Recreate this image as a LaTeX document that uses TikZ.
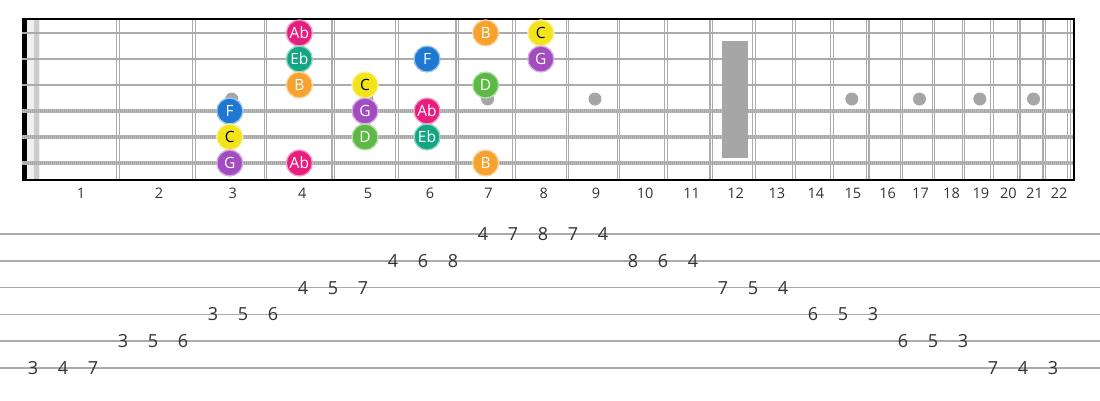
\documentclass[tikz,border=0pt]{standalone}
\usepackage{fontspec}
\setmainfont{Open Sans}
\usetikzlibrary{positioning, calc}

\definecolor{cAb}{HTML}{E61E7E}
\definecolor{cEb}{HTML}{14A683}
\definecolor{cB}{HTML}{F7A12E}
\definecolor{cF}{HTML}{1E78D2}
\definecolor{cC}{HTML}{F3E31A}
\definecolor{cG}{HTML}{A24CC0}
\definecolor{cD}{HTML}{5CB946}
\definecolor{strcol}{HTML}{ABABAB}
\definecolor{inlay}{HTML}{A6A6A6}
\definecolor{tabtxt}{HTML}{333333}

\begin{document}
\begin{tikzpicture}[x=1pt, y=-1pt,
	note/.style={circle, minimum size=26pt, inner sep=0pt, line width=1.3pt, text height=11pt, text depth=0pt, font=\fontsize{15.5}{15.5}\selectfont},
	tabnum/.style={text=tabtxt, inner sep=0pt, text height=13pt, text depth=0pt, font=\fontsize{18}{18}\selectfont},
	fretnum/.style={text=tabtxt, inner sep=0pt, text height=10.5pt, text depth=0pt, font=\fontsize{14.5}{14.5}\selectfont},
	fretline/.style={draw=strcol, line width=3.6pt},
	plainstr/.style={draw=strcol, line width=2.6pt},
	woundstr/.style={draw=strcol!80, line width=3.4pt}]
	\useasboundingbox (0,0) rectangle (1100,400);
	% nut
	\fill[black] (22,19) rectangle (27,180);
	\fill[gray!12] (27,19) rectangle (40,180);
	\fill[gray!40] (34,19) rectangle (39,180);
	% frets
	\foreach \n in {1,...,21} {
		\pgfmathsetmacro\fx{38+1432*(1-pow(2,-\n/12))}
		\draw[fretline] (\fx,19) -- (\fx,180);
		\draw[white, line width=1.2pt] (\fx,19) -- (\fx,180);
	}
	\draw[fretline] (1069,19) -- (1069,180);
	\draw[white, line width=1.2pt] (1069,19) -- (1069,180);
	% inlays
	\foreach \n in {3,5,7,9,15,17,19,21} {
		\pgfmathsetmacro\cx{40+1432*(1-0.5*(pow(2,-(\n-1)/12)+pow(2,-\n/12)))}
		\fill[inlay] (\cx,99) circle (6.5);
	}
	% strings
	\foreach \s in {1,2,3}
		\draw[plainstr] (22,7+26*\s) -- (1074,7+26*\s);
	\foreach \s in {4,5,6} {
		\draw[woundstr] (22,7+26*\s) -- (1074,7+26*\s);
		\draw[gray!70, line width=3.4pt, dash pattern=on 1pt off 1pt] (22,7+26*\s) -- (1074,7+26*\s);
	}
	\fill[inlay] (722,41) rectangle (748,158);
	% board edge
	\draw[black, line width=2pt] (22,19) -- (1074,19) -- (1074,180) -- (22,180);
	% fret numbers
	\foreach \n in {1,...,22} {
		\pgfmathsetmacro\cx{40+1432*(1-0.5*(pow(2,-(\n-1)/12)+pow(2,-\n/12)))}
		\node[fretnum] (f\n) at (\cx+1,193) {\n};
	}
	% scale notes: string/fret/name/colour/text colour
	\foreach \s/\f/\nm/\col/\tc in {1/4/Ab/cAb/white, 1/7/B/cB/white, 1/8/C/cC/black,
			2/4/Eb/cEb/white, 2/6/F/cF/white, 2/8/G/cG/white,
			3/4/B/cB/white, 3/5/C/cC/black, 3/7/D/cD/white,
			4/3/F/cF/white, 4/5/G/cG/white, 4/6/Ab/cAb/white,
			5/3/C/cC/black, 5/5/D/cD/white, 5/6/Eb/cEb/white,
			6/3/G/cG/white, 6/4/Ab/cAb/white, 6/7/B/cB/white} {
		\pgfmathsetmacro\cx{40+1432*(1-0.5*(pow(2,-(\f-1)/12)+pow(2,-\f/12)))}
		\node[note, fill=\col, draw=\col!45!white, text=\tc] (n\s-\f) at (\cx-2,7+26*\s) {\nm};
	}
	% tab
	\foreach \s in {1,...,6}
		\draw[strcol, line width=1.6pt] (0,207.2+26.8*\s) -- (1100,207.2+26.8*\s);
	\foreach \i/\s/\v in {0/6/3, 1/6/4, 2/6/7, 3/5/3, 4/5/5, 5/5/6, 6/4/3, 7/4/5, 8/4/6,
			9/3/4, 10/3/5, 11/3/7, 12/2/4, 13/2/6, 14/2/8,
			15/1/4, 16/1/7, 17/1/8, 18/1/7, 19/1/4,
			20/2/8, 21/2/6, 22/2/4, 23/3/7, 24/3/5, 25/3/4,
			26/4/6, 27/4/5, 28/4/3, 29/5/6, 30/5/5, 31/5/3,
			32/6/7, 33/6/4, 34/6/3}
		\node[tabnum] (t\i) at (33+30*\i,207.2+26.8*\s) {\v};
\end{tikzpicture}
\end{document}
